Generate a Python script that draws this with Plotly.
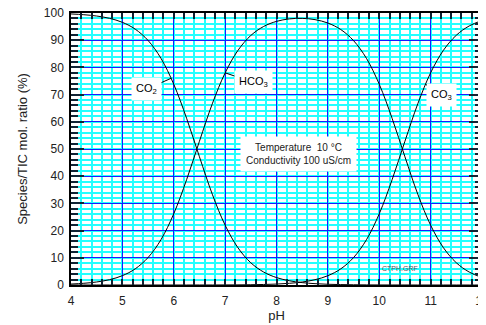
import plotly.graph_objects as go

ph = [4.0, 4.25, 4.5, 4.75, 5.0, 5.25, 5.5, 5.75, 6.0, 6.25, 6.5, 6.75, 7.0, 7.25, 7.5, 7.75,
      8.0, 8.25, 8.5, 8.75, 9.0, 9.25, 9.5, 9.75, 10.0, 10.25, 10.5, 10.75, 11.0, 11.25, 11.5, 11.75, 12.0]
co2 = [99.65, 99.37, 98.89, 98.04, 96.57, 94.06, 89.91, 83.37, 73.81, 61.31, 47.13, 33.39, 21.99, 13.68,
       8.17, 4.76, 2.73, 1.55, 0.87, 0.49, 0.27, 0.15, 0.08, 0.04, 0.02, 0.01, 0.01, 0, 0, 0, 0, 0, 0]
hco3 = [0.35, 0.63, 1.11, 1.96, 3.43, 5.94, 10.09, 16.63, 26.19, 38.69, 52.86, 66.60, 77.98, 86.27,
        91.73, 95.05, 96.92, 97.83, 98.03, 97.56, 96.31, 93.93, 89.84, 83.35, 73.80, 61.30, 47.13,
        33.39, 21.99, 13.68, 8.18, 4.77, 2.74]
co3 = [0, 0, 0, 0, 0, 0, 0, 0, 0, 0, 0.01, 0.01, 0.03, 0.05, 0.10, 0.19, 0.34, 0.62, 1.10, 1.95,
       3.42, 5.92, 10.08, 16.61, 26.18, 38.69, 52.87, 66.61, 78.01, 86.32, 91.82, 95.23, 97.26]

x_ticks = [4, 5, 6, 7, 8, 9, 10, 11, 12]
y_ticks = [0, 10, 20, 30, 40, 50, 60, 70, 80, 90, 100]

FONT = "Liberation Sans, Arial, sans-serif"

fig = go.Figure()
for ys in (co2, hco3, co3):
    fig.add_trace(go.Scatter(x=ph, y=ys, mode="lines", line=dict(color="black", width=1, shape="spline"),
                             showlegend=False, hoverinfo="skip"))

def label(text, tip_x, tip_y, tx, ty):
    fig.add_annotation(x=tip_x, y=tip_y, ax=tx, ay=ty, xref="x", yref="y", axref="x", ayref="y",
                       text=text, showarrow=True, arrowhead=0, arrowwidth=1, arrowcolor="black",
                       bgcolor="white", borderpad=4, font=dict(family=FONT, size=11, color="black"))

label("CO<sub>2</sub>", 5.95, 76.0, 5.47, 72.0)
label("HCO<sub>3</sub>", 7.0, 78.0, 7.55, 74.5)
label("CO<sub>3</sub>", 10.9, 73.8, 11.22, 70.0)

fig.add_annotation(x=8.42, y=48.0, xref="x", yref="y", showarrow=False,
                   text="Temperature  10 °C<br>Conductivity 100 uS/cm",
                   bgcolor="white", borderpad=5, font=dict(family=FONT, size=10, color="#222"))
fig.add_annotation(x=10.4, y=5.9, xref="x", yref="y", showarrow=False, text="CTPH.GRF",
                   font=dict(family=FONT, size=7, color="#555"))

# page body has an 8px default margin: shrink figure so it fits the 486x325 window
fig.update_layout(
    width=478, height=317,
    margin=dict(l=63, r=4, t=5, b=40, autoexpand=False),
    paper_bgcolor="white", plot_bgcolor="white",
    font=dict(family=FONT, size=12, color="#222"),
)
fig.update_xaxes(
    range=[4, 12], tickvals=x_ticks, ticktext=[str(v) for v in x_ticks],
    automargin=False, ticklabeloverflow="allow", ticklabelstandoff=4,
    showgrid=True, gridcolor="#1a1aff", gridwidth=1, zeroline=False,
    showline=True, linecolor="black", linewidth=1.5, mirror="allticks",
    ticks="inside", ticklen=6, tickcolor="#123", tickwidth=1.5,
    minor=dict(dtick=0.2, showgrid=True, gridcolor="#22FFFF", gridwidth=1.5,
               ticks="inside", ticklen=6, tickcolor="#123", tickwidth=1.5),
    title=dict(text="pH", font=dict(size=13), standoff=2),
    tickfont=dict(size=12),
)
fig.update_yaxes(
    range=[0, 100], tickvals=y_ticks,
    automargin=False, ticklabelstandoff=3, ticklabeloverflow="allow",
    showgrid=True, gridcolor="#1a1aff", gridwidth=1, zeroline=False,
    showline=True, linecolor="black", linewidth=1.5, mirror="allticks",
    ticks="inside", ticklen=13, tickcolor="#123", tickwidth=1.5,
    minor=dict(dtick=2, showgrid=True, gridcolor="#22FFFF", gridwidth=1.5,
               ticks="inside", ticklen=7, tickcolor="#123", tickwidth=1.5),
    title=dict(text="Species/TIC mol. ratio (%)", font=dict(size=13), standoff=13),
    tickfont=dict(size=12),
)

fig.write_html("out.html")
